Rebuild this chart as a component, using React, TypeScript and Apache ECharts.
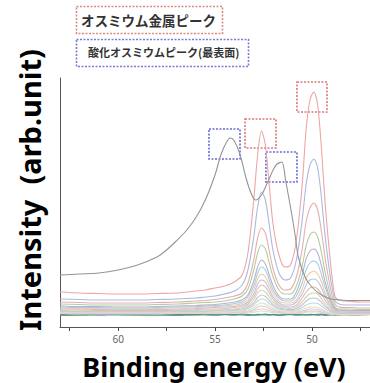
import React, { useEffect, useRef } from "react";
import * as echarts from "echarts";

// Binding energy grid (eV) for the metal-peak depth profile curves
const energy = [63, 62, 61, 60, 59, 58, 57, 56, 55.5, 55, 54.5, 54, 53.6, 53.3, 53.0, 52.8, 52.6, 52.4, 52.2, 52.0, 51.7, 51.4, 51.1, 50.8, 50.5, 50.3, 50.1, 49.9, 49.7, 49.5, 49.3, 49.0, 48.8, 48.6, 48.3, 48.0, 47.5, 47.0];

const curveRed = [23, 22, 21.5, 21, 21, 21.5, 22, 24, 25, 27, 29, 33, 40, 62, 115, 160, 184, 170, 130, 90, 60, 48, 50, 75, 130, 185, 215, 223, 210, 165, 108, 45, 18, 15, 14, 13.5, 13, 13];
const curveBlue = [16, 15.5, 15, 15, 15, 15.5, 16, 17, 18, 19, 21, 24, 30, 45, 78, 108, 123, 115, 90, 64, 42, 35, 37, 55, 95, 130, 150, 156, 147, 116, 76, 32, 14, 11, 10, 10, 10, 10];
const curve3 = [13, 12.5, 12, 12, 12, 12.5, 13, 14, 14.5, 15.5, 17, 19, 22, 32, 55, 77, 87, 82, 64, 46, 30, 25, 26, 38, 66, 93, 107, 112, 105, 83, 55, 23, 11, 8, 7.5, 7.5, 7, 7];
const curve4 = [11, 10.5, 10, 10, 10, 10.5, 11, 12, 12.5, 13, 14, 16, 19, 26, 45, 62, 70, 66, 52, 38, 25, 21, 21, 29, 49, 69, 80, 83, 78, 62, 41, 17, 8, 6, 6, 6, 5.5, 5.5];
const curve5 = [9, 8.5, 8.5, 8, 8, 8.5, 9, 9.5, 10, 10.5, 11.5, 13, 15, 20, 34, 48, 55, 51, 40, 29, 19, 16, 16, 23, 40, 56, 64, 66, 62, 49, 32, 13, 6.5, 5, 5, 4.5, 4.5, 4.5];
const curve6 = [8, 7.5, 7.5, 7, 7, 7.5, 8, 8.5, 9, 9.5, 10, 11.5, 13, 18, 29, 42, 48, 45, 35, 25, 17, 14, 14, 19, 32, 45, 52, 54, 51, 40, 27, 11, 5.5, 4.5, 4.5, 4, 4, 4];
const curve7 = [7, 6.5, 6.5, 6, 6, 6.5, 7, 7.5, 8, 8.5, 9, 10, 11.5, 15, 25, 36, 41, 38, 30, 22, 14, 12, 12, 15, 26, 37, 42, 44, 41, 33, 21, 9, 5, 4, 4, 3.5, 3.5, 3.5];
const curve8 = [6, 6, 5.5, 5.5, 5.5, 5.5, 6, 6.5, 7, 7.5, 8, 8.5, 10, 13, 21, 31, 35, 33, 26, 18, 12, 10, 10, 13, 21, 30, 35, 36, 34, 27, 18, 8, 4.5, 3.5, 3.5, 3, 3, 3];
const curve9 = [5, 5, 4.5, 4.5, 4.5, 4.5, 5, 5.5, 6, 6, 6.5, 7.5, 8.5, 11, 18, 26, 30, 28, 22, 16, 10, 8.5, 8, 10, 17, 23, 27, 28, 26, 21, 14, 6.5, 3.5, 3, 3, 2.5, 2.5, 2.5];
const curve10 = [4.5, 4, 4, 4, 4, 4, 4.5, 4.5, 5, 5, 5.5, 6, 7, 9.5, 15, 22, 25, 23, 18, 13, 8.5, 7, 6.5, 8, 13, 18, 21, 22, 21, 16, 11, 5, 3, 2.5, 2.5, 2.5, 2, 2];
const curve11 = [4, 3.5, 3.5, 3.5, 3.5, 3.5, 4, 4, 4, 4.5, 5, 5.5, 6, 8, 12, 17.5, 20, 18.5, 14.5, 10.5, 7, 6, 5.5, 6.5, 10, 14, 16.5, 17, 16, 12.5, 8.5, 4, 2.5, 2, 2, 2, 2, 2];
const curve12 = [3.5, 3, 3, 3, 3, 3, 3.5, 3.5, 3.5, 4, 4, 4.5, 5, 6.5, 10, 14, 16, 15, 11.5, 8.5, 6, 5, 4.5, 5, 7.5, 10, 11.5, 12, 11.5, 9, 6, 3, 2, 1.5, 1.5, 1.5, 1.5, 1.5];
const curve13 = [3, 2.5, 2.5, 2.5, 2.5, 2.5, 3, 3, 3, 3, 3.5, 3.5, 4, 5, 7.5, 10.5, 12, 11, 8.5, 6.5, 4.5, 4, 3.5, 4, 5.5, 7, 8, 8, 7.5, 6, 4, 2, 1.5, 1, 1, 1, 1, 1];
const curve14 = [2.5, 2, 2, 2, 2, 2, 2.5, 2.5, 2.5, 2.5, 3, 3, 3.5, 4, 5.5, 8, 9, 8.5, 6.5, 5, 3.5, 3, 3, 3, 4, 5, 6, 6, 5.5, 4.5, 3, 1.5, 1, 1, 1, 1, 1, 1];
const curve15 = [2, 1.5, 1.5, 1.5, 1.5, 1.5, 2, 2, 2, 2, 2, 2.5, 2.5, 3, 4, 5.5, 6, 5.5, 4.5, 3.5, 2.5, 2, 2, 2, 3, 3.5, 4, 4, 4, 3, 2, 1, 0.5, 0.5, 0.5, 0.5, 0.5, 0.5];
const curve16 = [1.5, 1, 1, 1, 1, 1, 1.5, 1.5, 1.5, 1.5, 1.5, 1.5, 2, 2, 2.5, 3.5, 4, 3.5, 3, 2.5, 2, 1.5, 1.5, 1.5, 2, 2.5, 3, 3, 3, 2.5, 1.5, 0.5, 0.5, 0, 0, 0, 0, 0];
const noiseA = [0.5, 0.2, 0.8, 0.3, 0.6, 0.1, 0.7, 0.4, 0.9, 0.2, 0.6, 0.3, 0.8, 0.5, 0.2, 0.7, 0.4, 0.9, 0.3, 0.6, 0.1, 0.5, 0.8, 0.3, 0.6, 0.2, 0.7, 0.4, 0.5, 0.9, 0.3, 0.6, 0.2, 0.8, 0.4, 0.6, 0.3, 0.7];
const noiseB = [-0.3, 0.2, -0.1, 0.3, -0.2, 0.1, -0.3, 0.2, 0, -0.2, 0.3, -0.1, 0.2, -0.3, 0.1, -0.2, 0.3, 0, -0.1, 0.2, -0.3, 0.1, 0.3, -0.2, 0, 0.2, -0.1, 0.3, -0.2, 0.1, -0.3, 0.2, 0, -0.1, 0.3, -0.2, 0.1, 1.5];

// Oxide (top-surface) curve, own energy grid
const oxideEnergy = [63, 62, 61, 60, 59, 58, 57.5, 57, 56.5, 56, 55.5, 55, 54.7, 54.4, 54.2, 54.0, 53.7, 53.4, 53.1, 52.9, 52.6, 52.3, 52.0, 51.8, 51.55, 51.35, 51.05, 50.85, 50.7, 50.35, 50.0, 49.5, 49.0, 48.5, 48.0, 47.5, 47.0];
const oxideValues = [40, 41, 42, 45, 50, 58, 65, 74, 84, 97, 115, 140, 160, 173, 177, 174, 160, 137, 120, 115, 120, 132, 145, 151, 153, 134, 102, 78, 58, 38, 28, 20, 16, 15, 14.5, 14.5, 14.5];

const curveColors = ["#eea5a5", "#a8bade", "#e3b0ad", "#b5cc9e", "#bdafd3", "#a3d2de", "#f6c9a3", "#b6c7e5", "#ebb9b7", "#cadbb0", "#cbc0dc", "#b5dce6", "#f8d7b6", "#c6d3ea", "#eec7c5", "#d6e4c1"];
const curves = [curveRed, curveBlue, curve3, curve4, curve5, curve6, curve7, curve8, curve9, curve10, curve11, curve12, curve13, curve14, curve15, curve16];

// Annotation boxes [E1, V1, E2, V2]
const metalBoxes = [[50.77, 233, 49.22, 203], [53.45, 196, 51.85, 167]];
const oxideBoxes = [[55.31, 186, 53.71, 156], [52.37, 163, 50.77, 133]];

const xTicks = [47.5, 50, 52.5, 55, 57.5, 60, 62.5];
const xLabels = [50, 55, 60];

const legendMetal = "オスミウム金属ピーク";
const legendOxide = "酸化オスミウムピーク(最表面)";
const xTitle = "Binding energy (eV)";
const yTitle = "Intensity\u00a0 (arb.unit)";

export default function App() {
  const ref = useRef<HTMLDivElement>(null);
  useEffect(() => {
    if (!ref.current) return;
    const chart = echarts.init(ref.current, null, { renderer: "svg" });
    const mkLine = (name: string, xs: number[], ys: number[], color: string, width: number, z: number) => ({
      name,
      type: "line",
      data: xs.map((x, i) => [x, ys[i]]),
      showSymbol: false,
      smooth: 0.3,
      silent: true,
      z,
      lineStyle: { color, width },
    });
    const series: any[] = [];
    series.push(mkLine("noiseB", energy, noiseB, "#7d8bb0", 1.2, 2));
    series.push(mkLine("noiseA", energy, noiseA, "#4a9a80", 1.3, 2));
    for (let i = curves.length - 1; i >= 0; i--) {
      series.push(mkLine("c" + i, energy, curves[i], curveColors[i], 1.1, 3 + (curves.length - i) * 0.01));
    }
    const boxArea = (boxes: number[][], color: string) => ({
      silent: true,
      itemStyle: { color: "transparent", borderColor: color, borderWidth: 1.6, borderType: [2, 1.5] },
      data: boxes.map((b) => [{ xAxis: b[0], yAxis: b[1] }, { xAxis: b[2], yAxis: b[3] }]),
    });
    const oxide: any = mkLine("oxide", oxideEnergy, oxideValues, "#959595", 1.1, 5);
    oxide.markArea = boxArea(oxideBoxes, "#6a6ad8");
    series.push(oxide);
    series.push({
      name: "metalBoxes",
      type: "line",
      data: [],
      silent: true,
      markArea: boxArea(metalBoxes, "#d87a7a"),
    });

    chart.setOption({
      animation: false,
      backgroundColor: "#ffffff",
      grid: { left: 60, right: 0, top: 78, bottom: 56 },
      xAxis: {
        type: "value",
        inverse: true,
        min: 47,
        max: 63,
        splitLine: { show: false },
        axisLine: { onZero: false, lineStyle: { color: "#555", width: 1 } },
        axisTick: { show: true, length: 4, customValues: xTicks, lineStyle: { color: "#444" } },
        axisLabel: { customValues: xLabels, color: "#666", fontSize: 10, margin: 7, fontFamily: "Noto Sans" },
      },
      yAxis: {
        type: "value",
        min: -12,
        max: 237,
        splitLine: { show: false },
        axisLine: { show: true, onZero: false, lineStyle: { color: "#555", width: 1 } },
        axisTick: { show: false },
        axisLabel: { show: false },
      },
      graphic: [
        {
          type: "rect",
          shape: { x: 76.5, y: 6.5, width: 146, height: 27 },
          style: { fill: "none", stroke: "#d88a8a", lineWidth: 1.6, lineDash: [2, 1.5] },
        },
        {
          type: "text",
          x: 81,
          y: 20,
          style: { text: legendMetal, font: 'bold 13.5px "Noto Sans CJK JP"', fill: "#333", textVerticalAlign: "middle" },
        },
        {
          type: "rect",
          shape: { x: 76.5, y: 39.5, width: 172, height: 27 },
          style: { fill: "none", stroke: "#7a7ad8", lineWidth: 1.6, lineDash: [2, 1.5] },
        },
        {
          type: "text",
          x: 88,
          y: 52,
          style: { text: legendOxide, font: 'bold 11px "Noto Sans CJK JP"', fill: "#333", textVerticalAlign: "middle" },
        },
        {
          type: "text",
          x: 214,
          y: 366,
          style: { text: xTitle, font: 'bold 27px "Noto Sans"', lineHeight: 28, fill: "#000", textAlign: "center", textVerticalAlign: "middle" },
        },
        {
          type: "text",
          x: 29,
          y: 190,
          rotation: Math.PI / 2,
          style: { text: yTitle, font: 'bold 29px "Noto Sans"', fill: "#000", textAlign: "center", textVerticalAlign: "middle" },
        },
      ],
      series,
    });
    return () => chart.dispose();
  }, []);
  return <div ref={ref} style={{ position: "fixed", left: 0, top: 0, width: 370, height: 383 }} />;
}
